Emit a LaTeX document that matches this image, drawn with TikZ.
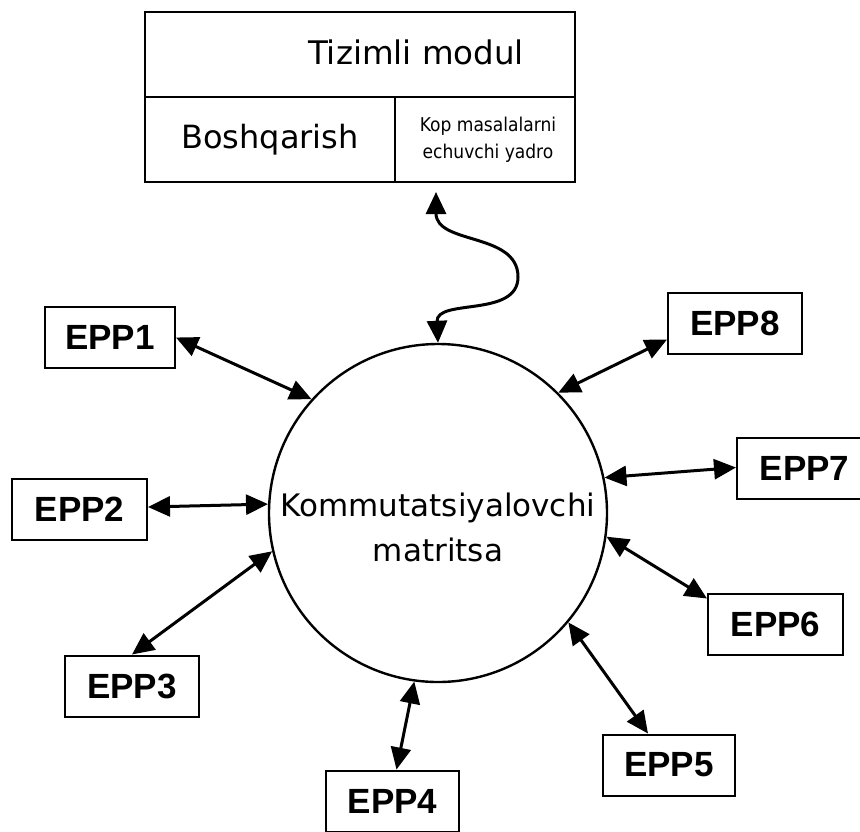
\documentclass[tikz,border=0pt]{standalone}
\usepackage{fontspec}
\setmainfont{DejaVu Sans}
\newfontfamily\condfont{DejaVu Sans Condensed}
\newfontfamily\eppfont{Liberation Sans}
\usetikzlibrary{arrows.meta}
\begin{document}
\begin{tikzpicture}[x=1pt,y=-1pt,
  cell/.style={draw,line width=2pt,inner sep=0pt,anchor=center},
  eppbox/.style={draw,line width=2pt,inner sep=0pt,minimum height=61pt,
    font=\eppfont\bfseries\fontsize{35}{40}\selectfont},
  link/.style={line width=3pt,{Triangle[length=22pt,width=20pt]}-{Triangle[length=22pt,width=20pt]}}
]
\useasboundingbox (0,0) rectangle (860,831);

% system module: title row and two lower cells
\node[cell,minimum width=430pt,minimum height=85pt] (sys) at (360,54.5) {};
\node[font=\fontsize{32.5}{38}\selectfont] (syst) at (416,52) {Tizimli modul};
\node[cell,minimum width=250pt,minimum height=85pt,font=\fontsize{32}{38}\selectfont]
  (ctl) at (270,139.5) {Boshqarish};
\node[cell,minimum width=180pt,minimum height=85pt] (core) at (485,139.5) {};
\node[align=center,font=\condfont\fontsize{19}{27}\selectfont]
  (coret) at (488,140) {Kop masalalarni\\echuvchi yadro};

% switching matrix
\node[draw,circle,line width=2.4pt,minimum size=338pt,inner sep=0pt] (mx) at (438,513) {};
\node[align=center,font=\fontsize{31}{45}\selectfont] (mxt) at (438,527)
  {Kommutatsiyalovchi\\matritsa};

% peripheral units
\node[eppbox,minimum width=130pt] (e1) at (110,337.5) {EPP1};
\node[eppbox,minimum width=135pt] (e2) at (79.5,509) {EPP2};
\node[eppbox,minimum width=134pt] (e3) at (132,686) {EPP3};
\node[eppbox,minimum width=133pt] (e4) at (392.5,801) {EPP4};
\node[eppbox,minimum width=132pt] (e5) at (669,765) {EPP5};
\node[eppbox,minimum width=135pt] (e6) at (775.5,624) {EPP6};
\node[eppbox,minimum width=135pt] (e7) at (804.5,468.5) {EPP7};
\node[eppbox,minimum width=134pt] (e8) at (735,323.5) {EPP8};

% links between units and matrix
\draw[link] (e1.east) -- (mx.138);
\draw[link] ([yshift=2pt]e2.east) -- (mx.177);
\draw[link] (e3.north) -- (mx.193);
\draw[link] ([xshift=4pt]e4.north) -- (mx.262);
\draw[link] ([xshift=-21pt]e5.north) -- (mx.320);
\draw[link] ([yshift=-6pt]e6.north west) -- (mx.352);
\draw[link] ([yshift=1pt]e7.west) -- (mx.12.6);
\draw[link] ([yshift=-16pt]e8.west) -- (mx.45);

% wavy link to the system module
\coordinate (w0) at (436,192);
\draw[link] (w0) .. controls (436,245) and (518,232) .. (518,277)
  .. controls (518,318) and (436,298) .. (mx.90);
\end{tikzpicture}
\end{document}
